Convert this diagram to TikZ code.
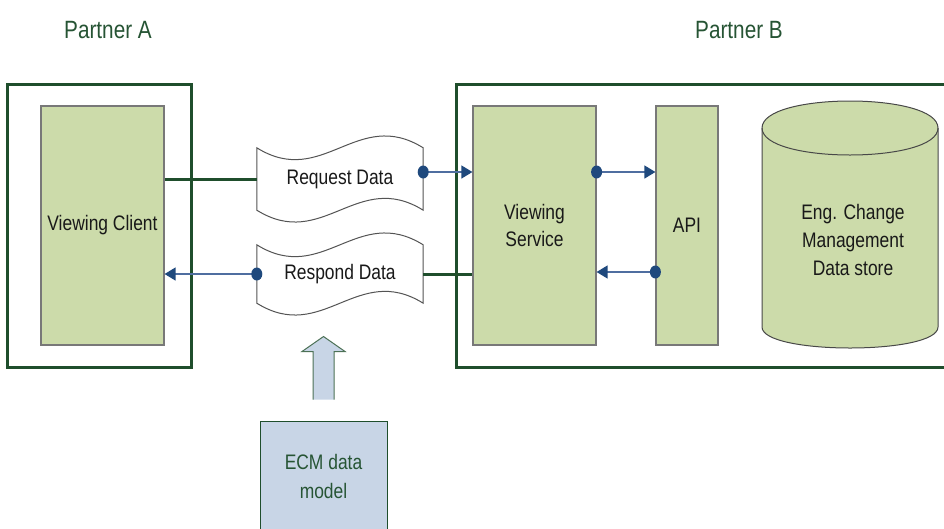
\documentclass[tikz,border=0pt]{standalone}
\usepackage{fontspec}
\setmainfont{Liberation Sans}[FakeStretch=0.83]
\usetikzlibrary{arrows.meta,calc}

\definecolor{boxgreen}{RGB}{204,219,170}
\definecolor{darkgreen}{RGB}{31,78,44}
\definecolor{titlegreen}{RGB}{38,84,52}
\definecolor{dotblue}{RGB}{31,73,125}
\definecolor{lineblue}{RGB}{79,110,160}
\definecolor{modelblue}{RGB}{200,213,230}
\definecolor{edgegray}{RGB}{120,120,120}
\definecolor{textdark}{RGB}{25,25,25}

\tikzset{
  partner/.style={draw=darkgreen, line width=3pt, fill=white},
  component/.style={draw=edgegray, line width=1.2pt, fill=boxgreen,
    text=textdark, align=center, font=\fontsize{21}{27}\selectfont},
  docshape/.style={minimum width=166pt, text=textdark,
    font=\fontsize{21}{27}\selectfont},
  docedge/.style={draw=edgegray!70!black, line width=1pt, fill=white},
  flow/.style={draw=lineblue, line width=1.3pt,
    -{Triangle[length=11pt,width=13pt,color=dotblue]}},
  solidlink/.style={draw=darkgreen, line width=3pt},
  dot/.style={fill=dotblue},
  title/.style={text=titlegreen, font=\fontsize{25}{29}\selectfont},
}

\begin{document}
\begin{tikzpicture}[x=1pt, y=-1pt]
  \useasboundingbox (0,0) rectangle (944,528);

  % partner headings
  \node[title] (ta) at (108,30) {Partner A};
  \node[title] (tb) at (739,30) {Partner B};

  % partner frames
  \node[partner, minimum width=184pt, minimum height=283pt] (pa) at (99,225.5) {};
  \node[partner, minimum width=492pt, minimum height=283pt] (pb) at (702,225.5) {};

  % components
  \node[component, minimum width=123pt, minimum height=239pt] (vc) at (102.5,225.5) {Viewing Client};
  \node[component, minimum width=123pt, minimum height=239pt] (vs) at (534.5,225.5) {Viewing\\Service};
  \node[component, minimum width=62pt, minimum height=239pt] (api) at (687,225.5) {API};

  % data store cylinder
  \path[draw=edgegray!60!black, line width=1pt, fill=boxgreen]
    (762,128) -- (762,327)
    .. controls (762,355) and (938,355) .. (938,327)
    -- (938,128)
    .. controls (938,92) and (762,92) .. (762,128) -- cycle;
  \draw[edgegray!60!black, line width=1pt]
    (762,128) .. controls (762,164) and (938,164) .. (938,128);
  \node[text=textdark, align=center, font=\fontsize{21}{28}\selectfont] (store) at (853,240)
    {Eng. Change\\Management\\Data store};

  % exchanged documents
  \node[docshape, minimum height=62pt] (req) at (340,179) {};
  \node[docshape, minimum height=58pt] (resp) at (340,274) {};
  \foreach \d in {req,resp} {
    \path[docedge]
      (\d.north west) .. controls +(66,41) and +(-66,-41) .. (\d.north east)
      -- (\d.south east) .. controls +(-66,-41) and +(66,41) .. (\d.south west)
      -- cycle;
  }
  \node[docshape] at (req.center) {Request Data};
  \node[docshape] at (resp.center) {Respond Data};

  % data model box and its block arrow
  \node[draw=darkgreen, line width=1pt, fill=modelblue, minimum width=127pt,
    minimum height=111pt, text=titlegreen, align=center,
    font=\fontsize{21}{29}\selectfont] (ecm) at (323.5,476.5) {ECM data\\model};
  \begin{scope}[shift={(ecm.north)}]
    \fill[modelblue] (-10.5,-21) -- (-10.5,-69) -- (-21.5,-69) -- (0,-84)
      -- (21.5,-69) -- (10.5,-69) -- (10.5,-21) -- cycle;
    \draw[darkgreen!80, line width=1pt] (-10.5,-21) -- (-10.5,-69) -- (-21.5,-69) -- (0,-84)
      -- (21.5,-69) -- (10.5,-69) -- (10.5,-21);
  \end{scope}

  % connectors
  \coordinate (reqout) at ([yshift=7pt]req.east);
  \coordinate (vsout) at ([yshift=53.5pt]vs.east);
  \coordinate (apiout) at ([yshift=-46.5pt]api.west);

  \draw[solidlink] (vc.east |- req.west) -- (req.west);
  \draw[solidlink] (resp.east) -- (resp.east -| vs.west);
  \draw[flow] (reqout) -- (reqout -| vs.west);
  \draw[flow] (resp.west) -- (resp.west -| vc.east);
  \draw[flow] (vsout) -- (vsout -| api.west);
  \draw[flow] (apiout) -- (apiout -| vs.east);

  \fill[dot] (reqout) ellipse [x radius=5.5pt, y radius=6.5pt];
  \fill[dot] (resp.west) ellipse [x radius=5.5pt, y radius=6.5pt];
  \fill[dot] (vsout) ellipse [x radius=5.5pt, y radius=6.5pt];
  \fill[dot] (apiout) ellipse [x radius=5.5pt, y radius=6.5pt];
\end{tikzpicture}
\end{document}
